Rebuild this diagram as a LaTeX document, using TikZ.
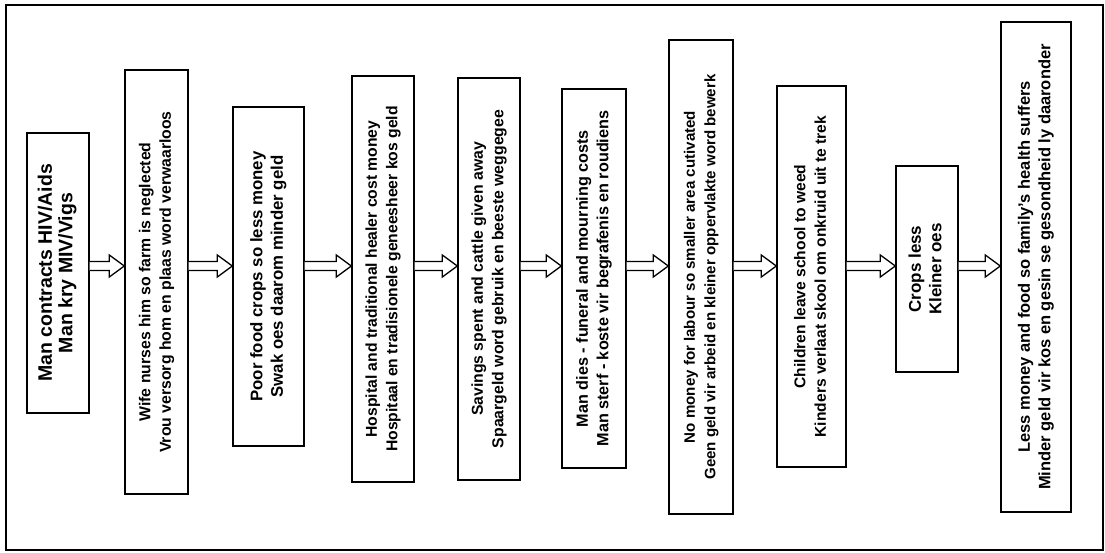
\documentclass[tikz,border=0pt]{standalone}
\usepackage{fontspec}
\setmainfont{Liberation Sans}
\usepackage{graphicx}
\usetikzlibrary{calc}

\tikzset{
  stage/.style={draw, line width=1.4pt, inner sep=0pt, fill=white},
  fs/.style={font=\fontsize{#1}{20.5}\selectfont\bfseries},
  hollow/.style={draw, line width=1.3pt, fill=white, line join=miter},
}
\newcommand{\stagetext}[2]{\rotatebox{90}{\begin{tabular}{@{}c@{}}#1\\#2\end{tabular}}}

\begin{document}
\begin{tikzpicture}[x=1pt,y=-1pt,fs=15.5]
\useasboundingbox (0,0) rectangle (1105,552);
\draw[line width=1.6pt] (6,5) rectangle (1103,550);
\coordinate (row) at (0,266);
% stages, left to right
\node[stage,fs=19.5,minimum width=62pt,minimum height=280pt] (b1) at (58,273)
  {\stagetext{Man contracts HIV/Aids}{Man kry MIV/Vigs}};
\node[stage,fs=15.8,minimum width=63pt,minimum height=424pt] (b2) at (156.5,282)
  {\stagetext{Wife nurses him so farm is neglected}{Vrou versorg hom en plaas word verwaarloos}};
\node[stage,fs=16.8,minimum width=71pt,minimum height=339pt] (b3) at (268.5,276.5)
  {\stagetext{Poor food crops so less money}{Swak oes daarom minder geld}};
\node[stage,fs=15.7,minimum width=62pt,minimum height=406pt] (b4) at (383,279)
  {\stagetext{Hospital and traditional healer cost money}{Hospitaal en tradisionele geneesheer kos geld}};
\node[stage,fs=15.8,minimum width=62pt,minimum height=402pt] (b5) at (489,279)
  {\stagetext{Savings spent and cattle given away}{Spaargeld word gebruik en beeste weggegee}};
\node[stage,fs=16.2,minimum width=64pt,minimum height=379pt] (b6) at (594,278.5)
  {\stagetext{Man dies - funeral and mourning costs}{Man sterf - koste vir begrafenis en roudiens}};
\node[stage,fs=15.1,minimum width=64pt,minimum height=474pt] (b7) at (701,277)
  {\stagetext{No money for labour so smaller area cutivated}{Geen geld vir arbeid en kleiner oppervlakte word bewerk}};
\node[stage,fs=15.6,minimum width=69pt,minimum height=381pt] (b8) at (811.5,276.5)
  {\stagetext{Children leave school to weed}{Kinders verlaat skool om onkruid uit te trek}};
\node[stage,fs=17,minimum width=62pt,minimum height=206pt] (b9) at (927,269)
  {\stagetext{Crops less}{Kleiner oes}};
\node[stage,fs=16.5,minimum width=70pt,minimum height=490pt] (b10) at (1036,267)
  {\stagetext{Less money and food so family's health suffers}{Minder geld vir kos en gesin se gesondheid ly daaronder}};
% hollow arrows between stages
\foreach \a/\b in {b1/b2,b2/b3,b3/b4,b4/b5,b5/b6,b6/b7,b7/b8,b8/b9,b9/b10}
  \draw[hollow] (\a.east |- row) ++(0,-4.5) -- ($(\b.west |- row)+(-15,-4.5)$) -- ++(0,-6.5)
    -- (\b.west |- row) -- ($(\b.west |- row)+(-15,11)$) -- ++(0,-6.5) -- ($(\a.east |- row)+(0,4.5)$);
\end{tikzpicture}
\end{document}
